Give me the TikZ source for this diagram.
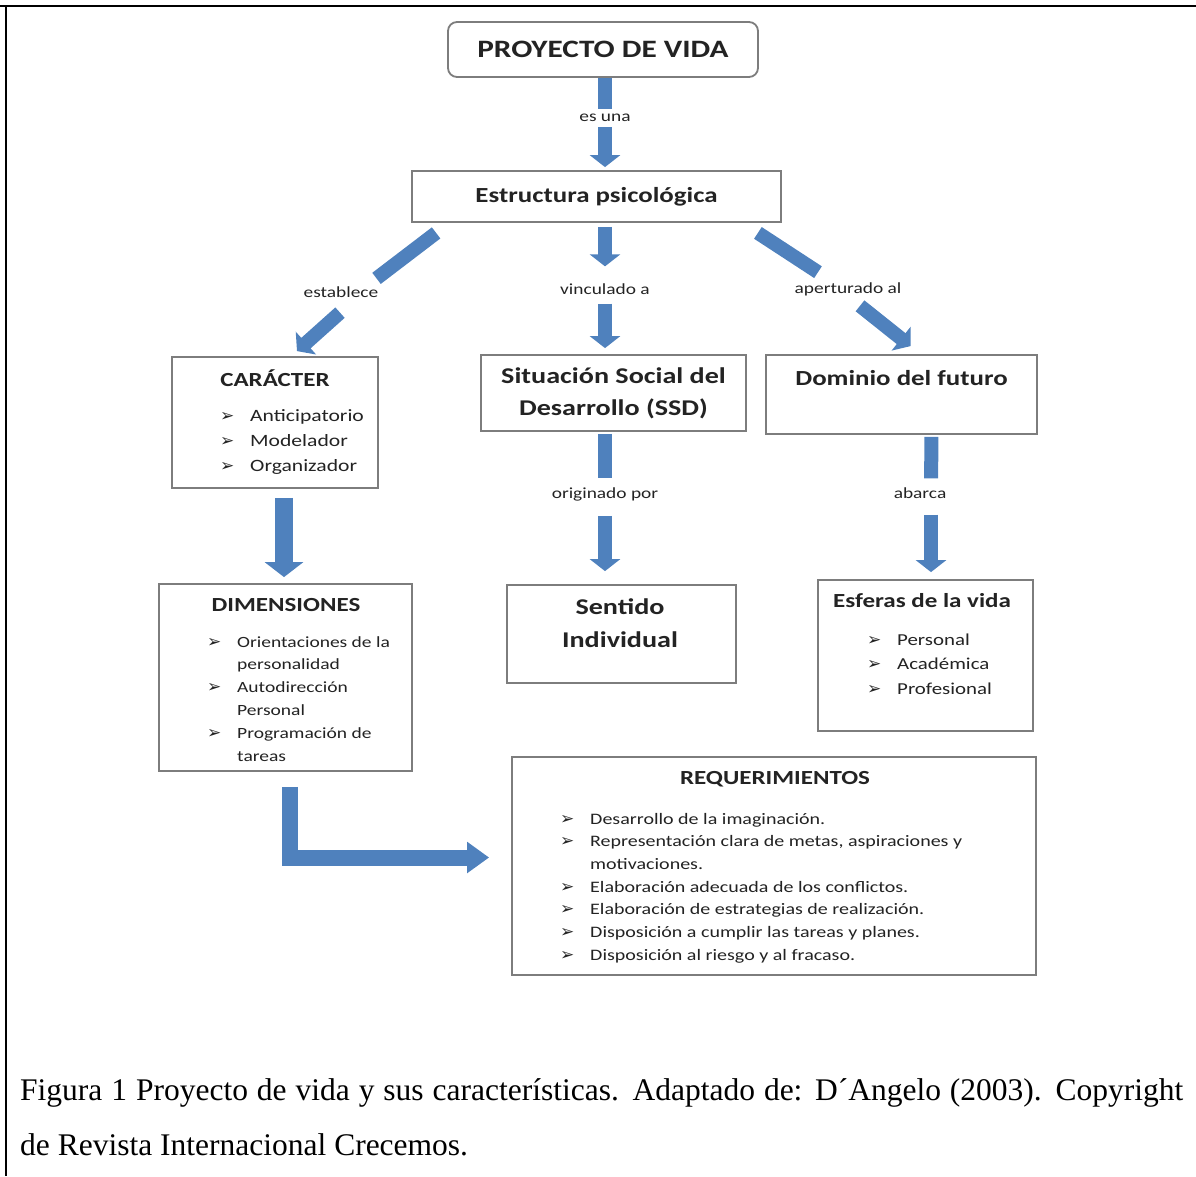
\documentclass[tikz,border=0pt]{standalone}
\usepackage{fontspec}
\setmainfont{Liberation Serif}
\newfontfamily\diagfont[FakeStretch=1.25]{Carlito}
\newfontfamily\bulfont{DejaVu Sans}
\usepackage{xcolor}
\usetikzlibrary{arrows.meta, positioning}

\definecolor{arrowblue}{RGB}{79,129,189}
\definecolor{boxgray}{RGB}{125,125,125}
\definecolor{txt}{RGB}{35,35,35}

\newcommand{\bul}{\makebox[30pt][l]{\strut{\bulfont\fontsize{17}{17}\selectfont ➢}}}
\newcommand{\cont}{\hspace*{30pt}\strut}

\begin{document}
\begin{tikzpicture}[
			x=1pt, y=-1pt,
			box/.style={rectangle, draw=boxgray, line width=1.8pt, fill=white, inner sep=0pt, text=txt},
			rbox/.style={box, rounded corners=9pt},
			head/.style={text=txt, font=\diagfont\bfseries\fontsize{20}{24}\selectfont},
			lbl/.style={text=txt, inner sep=2pt, font=\diagfont\fontsize{15.5}{18}\selectfont},
			items/.style={text=txt, align=left, anchor=north west, inner sep=0pt},
			shaft/.style={draw=arrowblue, line width=14pt},
			blk/.style={shaft, -{Triangle[width=30pt, length=12pt]}},
			bigblk/.style={draw=arrowblue, line width=18pt, -{Triangle[width=38pt, length=15pt]}},
			bent/.style={draw=arrowblue, line width=16pt, -{Triangle[width=30pt, length=22pt]}}
			]
			\useasboundingbox (0,0) rectangle (1196,1176);
			
			% --- Page frame ---
			\draw[line width=2pt] (0,6) -- (1196,6);
			\draw[line width=2.5pt] (6,6) -- (6,1176);
			
			% --- Row 1: title and structure ---
			\node[rbox, minimum width=310pt, minimum height=55pt, font=\diagfont\bfseries\fontsize{25}{30}\selectfont] (proyecto) at (603,49.5) {PROYECTO DE VIDA};
			\node[lbl] (esuna) at (605,118) {es una};
			\node[box, minimum width=369pt, minimum height=51pt, font=\diagfont\bfseries\fontsize{21.5}{26}\selectfont] (estructura) at (596.5,196.5) {Estructura psicológica};
			
			% --- Row 2: link labels ---
			\node[lbl] (establece) at (341,292) {establece};
			\node[lbl] (vinculado) at (605,289) {vinculado a};
			\node[lbl] (aperturado) at (848,289) {aperturado al};
			
			% --- Row 3 ---
			\node[box, minimum width=206pt, minimum height=131pt] (caracter) at (275,422.5) {};
			\node[head] (caracter_t) at (275,378) {CARÁCTER};
			\node[items, font=\diagfont\fontsize{17.3}{25}\selectfont] (caracter_l) at (220,404) {\bul Anticipatorio\\\bul Modelador\\\bul Organizador};
			
			\node[box, minimum width=265pt, minimum height=76pt, align=center, font=\diagfont\bfseries\fontsize{22.5}{32}\selectfont] (situacion) at (613.5,393) {Situación Social del\\Desarrollo (SSD)};
			
			\node[box, minimum width=271pt, minimum height=79pt] (dominio) at (901.5,394.5) {};
			\node[text=txt, font=\diagfont\bfseries\fontsize{21.5}{26}\selectfont] (dominio_t) at (901.5,378) {Dominio del futuro};
			
			\node[lbl] (originado) at (605,494) {originado por};
			\node[lbl] (abarca) at (920,493) {abarca};
			
			% --- Row 4 ---
			\node[box, minimum width=253pt, minimum height=187pt] (dimensiones) at (285.5,677.5) {};
			\node[head] (dimensiones_t) at (286,605) {DIMENSIONES};
			\node[items, font=\diagfont\fontsize{15.6}{22.8}\selectfont] (dimensiones_l) at (207,631) {\bul Orientaciones de la\\\cont personalidad\\\bul Autodirección\\\cont Personal\\\bul Programación de\\\cont tareas};
			
			\node[box, minimum width=229pt, minimum height=98pt] (sentido) at (621.5,634) {};
			\node[align=center, text=txt, font=\diagfont\bfseries\fontsize{22.5}{33}\selectfont] (sentido_t) at (620,623.5) {Sentido\\Individual};
			
			\node[box, minimum width=215pt, minimum height=151pt] (esferas) at (925.5,655.5) {};
			\node[head] (esferas_t) at (922,601) {Esferas de la vida};
			\node[items, font=\diagfont\fontsize{16.7}{24.5}\selectfont] (esferas_l) at (867,628) {\bul Personal\\\bul Académica\\\bul Profesional};
			
			% --- Row 5 ---
			\node[box, minimum width=524pt, minimum height=218pt] (requerimientos) at (774,866) {};
			\node[head] (requerimientos_t) at (775,779) {REQUERIMIENTOS};
			\node[items, font=\diagfont\fontsize{16}{22.7}\selectfont] (requerimientos_l) at (560,808) {\bul Desarrollo de la imaginación.\\\bul Representación clara de metas, aspiraciones y\\\cont motivaciones.\\\bul Elaboración adecuada de los conflictos.\\\bul Elaboración de estrategias de realización.\\\bul Disposición a cumplir las tareas y planes.\\\bul Disposición al riesgo y al fracaso.};
			
			% --- Caption ---
			\node[anchor=north west, inner sep=0pt, text width=1163pt, align=justify, font=\fontsize{31.5}{55}\selectfont] (caption) at (20,1078) {Figura 1 Proyecto de vida y sus características. Adaptado de: D´Angelo (2003). Copyright\linebreak de Revista Internacional Crecemos.};
			
			% --- Block arrows ---
			\draw[shaft, shorten >=3pt] (proyecto.south -| esuna) -- (esuna.north);
			\draw[blk, shorten <=3pt, shorten >=3pt] (esuna.south) -- (estructura.north -| esuna);
			
			\draw[shaft] ([xshift=25pt,yshift=-10pt]estructura.south west) -- ([xshift=-4pt,yshift=6pt]establece.north east);
			\draw[blk] ([xshift=-1pt,yshift=-13pt]establece.south) -- ([xshift=22pt,yshift=5pt]caracter.north);
			
			\draw[blk, shorten <=4pt, shorten >=15pt] (estructura.south -| vinculado) -- (vinculado.north);
			\draw[blk, shorten <=7pt, shorten >=6pt] (vinculado.south) -- (situacion.north -| vinculado);
			
			\draw[shaft] ([xshift=-24pt,yshift=-10pt]estructura.south east) -- ([xshift=-30pt,yshift=8pt]aperturado.north);
			\draw[blk] ([xshift=12pt,yshift=-8pt]aperturado.south) -- ([xshift=9pt,yshift=8pt]dominio.north);
			
			\draw[shaft, shorten <=2pt, shorten >=7pt] (situacion.south -| originado) -- (originado.north);
			\draw[blk, shorten <=13pt, shorten >=13pt] (originado.south) -- (sentido.north -| originado);
			
			\draw[shaft, shorten <=2pt, shorten >=7pt] ([xshift=30pt]dominio.south) -- ([xshift=11pt]abarca.north);
			\draw[blk, shorten <=14pt, shorten >=7pt] ([xshift=11pt]abarca.south) -- ([xshift=5.5pt]esferas.north);
			
			\draw[bigblk, shorten <=9pt, shorten >=6pt] ([xshift=9pt]caracter.south) -- ([xshift=-1.5pt]dimensiones.north);
			
			\draw[bent, shorten <=15pt, shorten >=22pt] ([xshift=4.5pt]dimensiones.south) |- ([yshift=8.5pt]requerimientos.west);
			
			\end{tikzpicture}
\end{document}
